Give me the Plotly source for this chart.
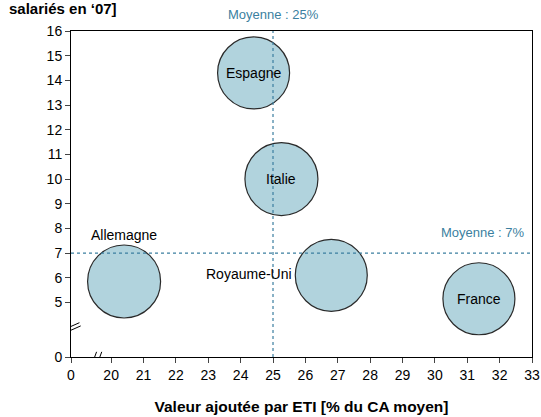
import plotly.graph_objects as go

# data
pays = ["Espagne", "Italie", "Allemagne", "Royaume-Uni", "France"]
valeur_ajoutee = [24.4, 25.26, 20.4, 26.8, 31.36]
salaries = [14.3, 10.0, 5.85, 6.1, 5.15]
taille = [72, 73, 73, 72, 72]

x_ticks = [0] + list(range(20, 34))
y_ticks = [0] + list(range(5, 17))
moy_x = 25
moy_y = 7

# axis breaks: 0 is drawn close to the first real tick
X_ZERO = 18.76
Y_ZERO = 2.79
def mx(v):
    return X_ZERO if v == 0 else v
def my(v):
    return Y_ZERO if v == 0 else v

BLEU = "#3b7fa0"
FONT = "Liberation Sans, Arial, sans-serif"

fig = go.Figure()

fig.add_trace(go.Scatter(
    x=valeur_ajoutee, y=salaries, mode="markers",
    marker=dict(size=taille, color="#b1d3dd", line=dict(color="#2a2a2a", width=1.2), opacity=1),
    hoverinfo="text", text=pays, showlegend=False,
))

# labels (pixel offsets for the two that sit outside their bubble)
for p, x, y in zip(pays, valeur_ajoutee, salaries):
    kw = dict(xanchor="center", xshift=0, yshift=0)
    if p == "Allemagne":
        kw["yshift"] = 46
    elif p == "Royaume-Uni":
        kw = dict(xanchor="right", xshift=-37, yshift=1)
    fig.add_annotation(x=x, y=y, text=p, showarrow=False,
                       font=dict(size=14, color="black", family=FONT), **kw)

# average lines
fig.add_shape(type="line", x0=moy_x, x1=moy_x, y0=Y_ZERO, y1=16,
              line=dict(color=BLEU, width=1.2, dash="dot"))
fig.add_shape(type="line", x0=X_ZERO, x1=33, y0=moy_y, y1=moy_y,
              line=dict(color=BLEU, width=1.2, dash="dot"))
fig.add_annotation(x=moy_x, y=1, yref="paper", yanchor="bottom", yshift=7,
                   text="Moyenne : 25%", showarrow=False,
                   font=dict(size=13, color=BLEU, family=FONT))
fig.add_annotation(x=33, y=moy_y, xanchor="right", yanchor="bottom", xshift=-5, yshift=11,
                   text="Moyenne : 7%", showarrow=False,
                   font=dict(size=13, color=BLEU, family=FONT))

# break marks
fig.add_shape(type="rect", x0=X_ZERO - 0.05, x1=X_ZERO + 0.05, y0=3.83, y1=3.95,
              line=dict(width=0), fillcolor="white")
fig.add_shape(type="rect", x0=19.5, x1=19.6, y0=Y_ZERO - 0.03, y1=Y_ZERO + 0.03,
              line=dict(width=0), fillcolor="white")
for a, b in ((18.52, 3.89), (18.56, 3.76)):
    fig.add_shape(type="line", x0=a, x1=a + 0.5, y0=b, y1=b + 0.29,
                  line=dict(color="black", width=1))
for a in (19.40, 19.56):
    fig.add_shape(type="line", x0=a, x1=a + 0.15, y0=Y_ZERO - 0.32, y1=Y_ZERO + 0.21,
                  line=dict(color="black", width=1))

fig.add_annotation(x=0, xref="paper", xanchor="left", y=1, yref="paper", yanchor="bottom",
                   xshift=-64, yshift=12, text="<b>salariés en ‘07]</b>", showarrow=False,
                   font=dict(size=15, color="black", family=FONT))

fig.update_xaxes(range=[X_ZERO, 33], tickvals=[mx(v) for v in x_ticks],
                 ticktext=[str(v) for v in x_ticks], ticks="outside", ticklen=5,
                 showline=True, linecolor="black", mirror=True, showgrid=False, zeroline=False,
                 tickfont=dict(size=14, color="black"),
                 title=dict(text="<b>Valeur ajoutée par ETI [% du CA moyen]</b>",
                            font=dict(size=15.5, color="black"), standoff=19))
fig.update_yaxes(range=[Y_ZERO, 16], tickvals=[my(v) for v in y_ticks],
                 ticktext=[str(v) for v in y_ticks], ticks="outside", ticklen=5,
                 showline=True, linecolor="black", mirror=True, showgrid=False, zeroline=False,
                 tickfont=dict(size=14, color="black"))

fig.update_layout(
    width=541, height=417,
    margin=dict(l=71, r=9, t=31, b=60, autoexpand=False),
    paper_bgcolor="white", plot_bgcolor="white",
    font=dict(family=FONT, color="black"),
)

# the page body has an 8px margin by default; drop it so the figure sits at 0,0
fig.write_html("out.html", config={"displayModeBar": False},
               post_script="document.body.style.margin='0';")
